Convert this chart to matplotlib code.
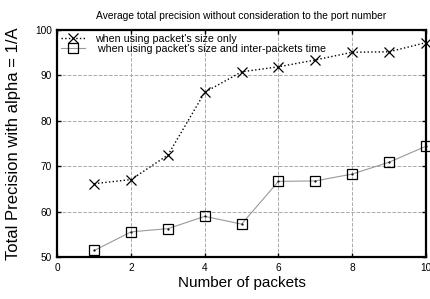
import matplotlib
matplotlib.use("Agg")
import matplotlib.pyplot as plt

plt.rcParams['font.family'] = ['Liberation Sans', 'DejaVu Sans']

packets = [1, 2, 3, 4, 5, 6, 7, 8, 9, 10]
size_only = [66.2, 67.1, 72.5, 86.3, 90.8, 91.9, 93.4, 95.1, 95.2, 97.2]
size_and_time = [51.5, 55.6, 56.3, 59.0, 57.3, 66.7, 66.8, 68.3, 70.9, 74.4]

fig = plt.figure(figsize=(4.31, 2.99), dpi=100)
ax = fig.add_axes([0.1334, 0.1395, 0.8543, 0.7602])

ax.plot(packets, size_only, color='black', linestyle=':', linewidth=1.0,
        marker='x', markersize=7, markeredgewidth=0.9,
        label="when using packet's size only", clip_on=False)
ax.plot(packets, size_and_time, color='#999999', linestyle='-', linewidth=0.8,
        marker='s', markersize=6.5, markerfacecolor='none',
        markeredgecolor='black', markeredgewidth=0.9,
        label=" when using packet's size and inter-packets time", clip_on=False)
# small dot in the centre of the squares, like gnuplot draws
ax.plot(packets, size_and_time, linestyle='none', marker='.', markersize=1.2,
        color='black', clip_on=False)

ax.set_xlim(0, 10)
ax.set_ylim(50, 100)
ax.set_xticks([0, 2, 4, 6, 8, 10])
ax.set_yticks([50, 60, 70, 80, 90, 100])
ax.tick_params(direction='in', length=3, width=1, labelsize=7.3,
               top=True, right=True, pad=4)
ax.grid(True, color='#aaaaaa', linestyle='--', linewidth=0.7)
for s in ax.spines.values():
    s.set_linewidth(1.6)

ax.set_title("Average total precision without consideration to the port number",
             fontsize=7.4, pad=8)
ax.set_xlabel("Number of packets", fontsize=11, labelpad=2)
ax.set_ylabel("Total Precision with alpha = 1/A", fontsize=12)
ax.yaxis.set_label_coords(-0.1, 0.5)

ax.legend(loc='upper left', frameon=False, fontsize=7.7, handlelength=2.2,
          handletextpad=0.95, borderaxespad=0.1, labelspacing=0.0,
          borderpad=0.25)

fig.savefig("out.png", dpi=100)
